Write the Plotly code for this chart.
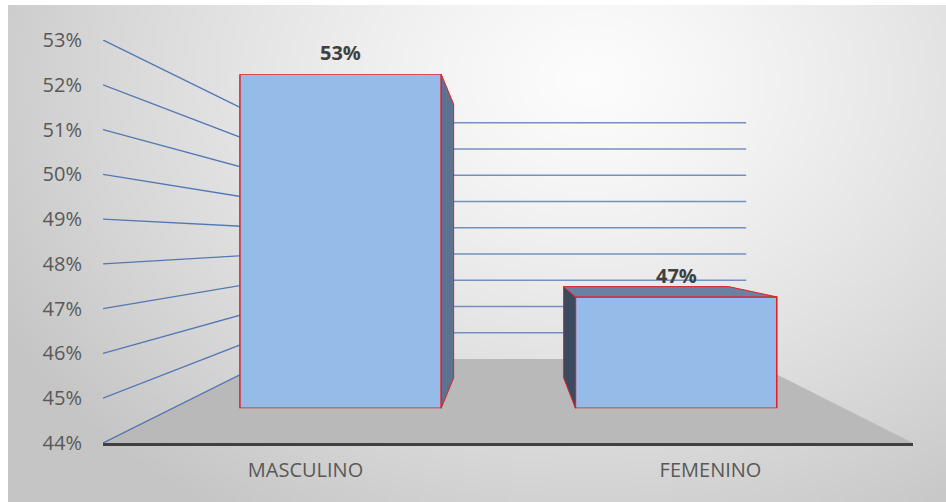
import base64
import struct
import zlib

import plotly.graph_objects as go

# ---------------- data ----------------
categories = ["MASCULINO", "FEMENINO"]
values = [0.53, 0.47]
y_ticks = [0.44, 0.45, 0.46, 0.47, 0.48, 0.49, 0.50, 0.51, 0.52, 0.53]
y_tick_labels = [f"{t:.0%}" for t in y_ticks]

# ---------------- geometry / style ----------------
W, H = 946, 502
FX0, FX1 = 103, 913        # front floor edge (main axes) in px
FY0, FY1 = 443, 40         # px of y_min / y_max on the front edge
VX, VY = 510, 240          # vanishing point (px)
S_BAR_FRONT = 0.8285
S_BAR_BACK = 0.679
S_WALL = 0.586
Y_MIN, Y_MAX = y_ticks[0], y_ticks[-1]
X_RANGE = [-0.5, len(categories) - 0.5]
BAR_WIDTH = 0.6

FONT = "Open Sans"
TXT = "#595959"
RED = "#e31e24"
GRID = "#5377b4"


def plane_domain(s):
    x0 = VX + s * (FX0 - VX)
    x1 = VX + s * (FX1 - VX)
    y0 = VY + s * (FY0 - VY)
    y1 = VY + s * (FY1 - VY)
    return [x0 / W, x1 / W], [(H - y0) / H, (H - y1) / H]


# vanishing point in main-axis data coordinates
uV = X_RANGE[0] + (VX - FX0) / (FX1 - FX0) * (X_RANGE[1] - X_RANGE[0])
vV = Y_MIN + (VY - FY0) / (FY1 - FY0) * (Y_MAX - Y_MIN)


def project(u, v, s):
    return uV + s * (u - uV), vV + s * (v - vV)


def path(points):
    return "M " + " L ".join(f"{x},{y}" for x, y in points) + " Z"


# ---------------- background gradient (png built in-memory) ----------------
def gradient_png(w, h, px0, py0, px1, py1):
    cx, cy, rx, ry = 590.0, 80.0, 640.0, 500.0
    raw = bytearray()
    for j in range(h):
        raw.append(0)
        py = py0 + (j + 0.5) / h * (py1 - py0)
        for i in range(w):
            px = px0 + (i + 0.5) / w * (px1 - px0)
            r = (((px - cx) / rx) ** 2 + ((py - cy) / ry) ** 2) ** 0.5
            r = min(r, 1.05)
            val = int(round(252 - 52 * r ** 1.25))
            raw.append(max(0, min(255, val)))

    def chunk(t, d):
        return struct.pack(">I", len(d)) + t + d + struct.pack(">I", zlib.crc32(t + d) & 0xFFFFFFFF)

    png = b"\x89PNG\r\n\x1a\n"
    png += chunk(b"IHDR", struct.pack(">IIBBBBB", w, h, 8, 0, 0, 0, 0))
    png += chunk(b"IDAT", zlib.compress(bytes(raw), 9))
    png += chunk(b"IEND", b"")
    return "data:image/png;base64," + base64.b64encode(png).decode()


BG_X0, BG_Y0 = 8, 5
bg_src = gradient_png(236, 124, BG_X0, BG_Y0, W, H)

# ---------------- figure ----------------
fig = go.Figure()

xdom_main, ydom_main = plane_domain(1.0)
xdom_bar, ydom_bar = plane_domain(S_BAR_FRONT)

fig.add_trace(go.Bar(
    x=list(range(len(categories))),
    y=[v - Y_MIN for v in values],
    base=[Y_MIN] * len(values),
    width=BAR_WIDTH,
    marker=dict(color="#95bce9", line=dict(color=RED, width=1.5)),
    xaxis="x2", yaxis="y2",
    hovertext=categories, hoverinfo="text",
    showlegend=False,
))

shapes = []

# floor
floor_pts = [project(X_RANGE[0], Y_MIN, 1.0), project(X_RANGE[1], Y_MIN, 1.0),
             project(X_RANGE[1], Y_MIN, S_WALL), project(X_RANGE[0], Y_MIN, S_WALL)]
shapes.append(dict(type="path", path=path(floor_pts), xref="x", yref="y",
                   fillcolor="#b9b9b9", line=dict(width=0), layer="below"))

# left wall lines
for t in y_ticks:
    (xa, ya), (xb, yb) = project(X_RANGE[0], t, 1.0), project(X_RANGE[0], t, S_WALL)
    shapes.append(dict(type="line", x0=xa, y0=ya, x1=xb, y1=yb, xref="x", yref="y",
                       line=dict(color=GRID, width=1.4), layer="below"))
# back wall lines
for t in y_ticks[1:]:
    (xa, ya), (xb, yb) = project(X_RANGE[0], t, S_WALL), project(X_RANGE[1], t, S_WALL)
    shapes.append(dict(type="line", x0=xa, y0=ya, x1=xb, y1=yb, xref="x", yref="y",
                       line=dict(color="#7690bd", width=1.4), layer="below"))

# bar side / top faces (3-D effect)
half = BAR_WIDTH / 2
for i, v in enumerate(values):
    if i + half < uV:   # right side visible
        e = i + half
        pts = [project(e, Y_MIN, S_BAR_FRONT), project(e, v, S_BAR_FRONT),
               project(e, v, S_BAR_BACK), project(e, Y_MIN, S_BAR_BACK)]
        shapes.append(dict(type="path", path=path(pts), xref="x", yref="y",
                           fillcolor="#5d7292", line=dict(color=RED, width=1), layer="above"))
    if i - half > uV:   # left side visible
        e = i - half
        pts = [project(e, Y_MIN, S_BAR_FRONT), project(e, v, S_BAR_FRONT),
               project(e, v, S_BAR_BACK), project(e, Y_MIN, S_BAR_BACK)]
        shapes.append(dict(type="path", path=path(pts), xref="x", yref="y",
                           fillcolor="#3b4a5e", line=dict(color=RED, width=1), layer="above"))
    if v < vV:          # top visible
        pts = [project(i - half, v, S_BAR_FRONT), project(i + half, v, S_BAR_FRONT),
               project(i + half, v, S_BAR_BACK), project(i - half, v, S_BAR_BACK)]
        shapes.append(dict(type="path", path=path(pts), xref="x", yref="y",
                           fillcolor="#6b81a3", line=dict(color=RED, width=1), layer="above"))

annotations = [
    dict(x=i, y=v, xref="x2", yref="y2", text=f"<b>{v:.0%}</b>", showarrow=False,
         yanchor="bottom", yshift=6, font=dict(family=FONT, size=20, color="#404040"))
    for i, v in enumerate(values)
]

fig.update_layout(
    width=W, height=H, autosize=False,
    margin=dict(l=0, r=0, t=0, b=0, pad=0),
    paper_bgcolor="white",
    plot_bgcolor="rgba(0,0,0,0)",
    font=dict(family=FONT, color=TXT),
    showlegend=False,
    shapes=shapes,
    annotations=annotations,
    images=[dict(source=bg_src, xref="paper", yref="paper",
                 x=BG_X0 / W, y=(H - BG_Y0) / H, sizex=(W - BG_X0) / W, sizey=(H - BG_Y0) / H,
                 xanchor="left", yanchor="top", sizing="stretch", layer="below")],
    xaxis=dict(domain=xdom_main, range=X_RANGE, tickvals=list(range(len(categories))),
               ticktext=categories, showgrid=False, zeroline=False, showline=True,
               linecolor="#404040", linewidth=3, ticks="outside", ticklen=7,
               tickcolor="rgba(0,0,0,0)", tickfont=dict(size=20, color=TXT),
               anchor="y", fixedrange=True, automargin=False),
    yaxis=dict(domain=ydom_main, range=[Y_MIN, Y_MAX], tickvals=y_ticks,
               ticktext=y_tick_labels, showgrid=False, zeroline=False, showline=False,
               ticks="outside", ticklen=16, tickcolor="rgba(0,0,0,0)",
               tickfont=dict(size=20, color=TXT), anchor="x", fixedrange=True,
               automargin=False),
    xaxis2=dict(domain=xdom_bar, range=X_RANGE, visible=False, anchor="y2",
                fixedrange=True, automargin=False),
    yaxis2=dict(domain=ydom_bar, range=[Y_MIN, Y_MAX], visible=False, anchor="x2",
                fixedrange=True, automargin=False),
)

fig.write_html("out.html")
